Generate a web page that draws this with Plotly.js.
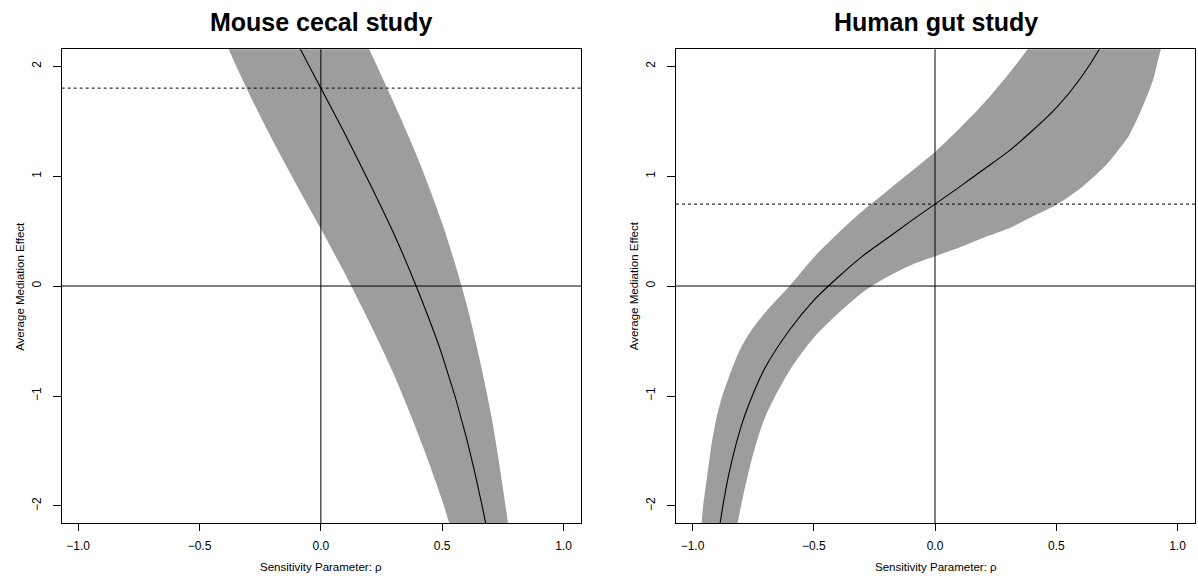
<!DOCTYPE html>
<html>
<head>
<meta charset="utf-8">
<script src="https://cdn.plot.ly/plotly-3.0.1.min.js"></script>
<style>html,body{margin:0;padding:0;background:#fff}#chart{width:1198px;height:579px}</style>
</head>
<body>
<div id="chart"></div>
<script>
// ---- Data ----
const panelTitles = ["Mouse cecal study", "Human gut study"];
const xTitle = "Sensitivity Parameter: \u03c1";
const yTitle = "Average Mediation Effect";
const xTickVals = [-1, -0.5, 0, 0.5, 1];
const xTickText = ["\u22121.0", "\u22120.5", "0.0", "0.5", "1.0"];
const yTickVals = [-2, -1, 0, 1, 2];
const yTickText = ["\u22122", "\u22121", "0", "1", "2"];

// Mouse cecal study
const rhoMouse   = [-0.5, -0.4, -0.3, -0.2, -0.1, 0, 0.1, 0.2, 0.3, 0.4, 0.5, 0.6, 0.7, 0.8];
const acmeMouse  = [4.23, 3.64, 3.12, 2.66, 2.22, 1.80, 1.38, 0.94, 0.48, -0.04, -0.63, -1.38, -2.40, -3.90];
const lowerMouse = [2.90, 2.26, 1.77, 1.33, 0.92, 0.52, 0.11, -0.33, -0.80, -1.34, -1.95, -2.73, -3.75, -5.30];
const upperMouse = [5.45, 4.85, 4.31, 3.86, 3.42, 3.02, 2.58, 2.15, 1.67, 1.16, 0.57, -0.16, -1.15, -2.60];
const estMouse = 1.80;

// Human gut study
const rhoHuman   = [-0.98, -0.96, -0.94, -0.92, -0.90, -0.88, -0.85, -0.80, -0.75, -0.70, -0.60, -0.50, -0.40, -0.30, -0.20, -0.10, 0, 0.10, 0.20, 0.30, 0.40, 0.50, 0.60, 0.70, 0.75, 0.80, 0.85, 0.90, 0.92, 0.94, 0.96];
const acmeHuman  = [-6.74, -4.47, -3.44, -2.82, -2.39, -2.07, -1.71, -1.28, -0.98, -0.74, -0.40, -0.13, 0.08, 0.27, 0.43, 0.59, 0.745, 0.90, 1.06, 1.22, 1.41, 1.62, 1.89, 2.24, 2.47, 2.77, 3.20, 3.88, 4.31, 4.93, 5.96];
const lowerHuman = [-10.3, -6.87, -5.24, -4.32, -3.64, -3.15, -2.61, -2.00, -1.53, -1.19, -0.77, -0.47, -0.25, -0.06, 0.08, 0.19, 0.27, 0.35, 0.44, 0.52, 0.63, 0.74, 0.89, 1.09, 1.22, 1.37, 1.60, 1.88, 2.06, 2.23, 2.56];
const upperHuman = [-3.10, -2.09, -1.74, -1.42, -1.19, -1.02, -0.83, -0.56, -0.38, -0.24, 0.00, 0.26, 0.48, 0.68, 0.86, 1.04, 1.22, 1.43, 1.66, 1.92, 2.21, 2.57, 2.99, 3.49, 3.82, 4.27, 4.85, 5.88, 6.61, 7.63, 9.36];
const estHuman = 0.745;

// ---- Styling / layout ----
const W = 1198, H = 579;
const bandColor = "#9d9d9d";
const font = "Liberation Sans, Arial, Helvetica, sans-serif";
const xRange = [-1.068, 1.072];
const yRange = [-2.155, 2.153];
const plotTop = 49.3, plotBottom = 523;
const boxes = [[61.7, 581], [676, 1195]];

const panels = [
  {rho: rhoMouse, acme: acmeMouse, lo: lowerMouse, hi: upperMouse, est: estMouse},
  {rho: rhoHuman, acme: acmeHuman, lo: lowerHuman, hi: upperHuman, est: estHuman}
];

const traces = [];
const shapes = [];
const annotations = [];
const layout = {
  width: W, height: H,
  margin: {l: 0, r: 0, t: 0, b: 0},
  paper_bgcolor: "#fff", plot_bgcolor: "#fff",
  showlegend: false,
  font: {family: font, color: "#000"}
};

panels.forEach((p, i) => {
  const xa = i === 0 ? "x" : "x2";
  const ya = i === 0 ? "y" : "y2";
  const smooth = {shape: "spline", smoothing: 0.8};
  traces.push({x: p.rho, y: p.lo, xaxis: xa, yaxis: ya, type: "scatter", mode: "lines",
    line: Object.assign({width: 0, color: bandColor}, smooth), hoverinfo: "skip"});
  traces.push({x: p.rho, y: p.hi, xaxis: xa, yaxis: ya, type: "scatter", mode: "lines",
    fill: "tonexty", fillcolor: bandColor,
    line: Object.assign({width: 0, color: bandColor}, smooth), hoverinfo: "skip"});
  traces.push({x: p.rho, y: p.acme, xaxis: xa, yaxis: ya, type: "scatter", mode: "lines",
    line: Object.assign({width: 1.1, color: "#000"}, smooth)});

  const axSuffix = i === 0 ? "" : "2";
  const [bx0, bx1] = boxes[i];
  layout["xaxis" + axSuffix] = {
    domain: [bx0 / W, bx1 / W], range: xRange, anchor: ya,
    showgrid: false, zeroline: false, showline: true, mirror: true,
    linecolor: "#000", linewidth: 1,
    ticks: "outside", ticklen: 7, tickcolor: "#000", tickwidth: 1,
    tickvals: xTickVals, ticktext: xTickText, ticklabelstandoff: 5,
    tickfont: {size: 12, family: font, color: "#000"}
  };
  layout["yaxis" + axSuffix] = {
    domain: [(H - plotBottom) / H, (H - plotTop) / H], range: yRange, anchor: xa,
    showgrid: false, zeroline: false, showline: true, mirror: true,
    linecolor: "#000", linewidth: 1,
    ticks: "outside", ticklen: 8, tickcolor: "#000", tickwidth: 1,
    tickvals: yTickVals, ticktext: yTickText, tickangle: -90, ticklabelstandoff: 7,
    tickfont: {size: 12, family: font, color: "#000"}
  };

  // reference lines (through the axes' scales)
  shapes.push({type: "line", xref: xa + " domain", yref: ya, x0: 0, x1: 1, y0: 0, y1: 0,
    line: {color: "#000", width: 1}});
  shapes.push({type: "line", xref: xa, yref: ya + " domain", x0: 0, x1: 0, y0: 0, y1: 1,
    line: {color: "#000", width: 1}});
  shapes.push({type: "line", xref: xa + " domain", yref: ya, x0: 0, x1: 1, y0: p.est, y1: p.est,
    line: {color: "#000", width: 1, dash: "3px,3px"}});

  const cx = (bx0 + bx1) / 2 / W;
  annotations.push({text: "<b>" + panelTitles[i] + "</b>", xref: "paper", yref: "paper",
    x: cx, y: (H - 22) / H, xanchor: "center", yanchor: "middle", showarrow: false,
    font: {size: 25, family: font, color: "#000"}});
  annotations.push({text: xTitle, xref: "paper", yref: "paper",
    x: cx, y: (H - 567) / H, xanchor: "center", yanchor: "middle", showarrow: false,
    font: {size: 11.5, family: font, color: "#000"}});
  annotations.push({text: yTitle, xref: "paper", yref: "paper", textangle: -90,
    x: (bx0 - 42) / W, y: (H - (plotTop + plotBottom) / 2) / H, xanchor: "center", yanchor: "middle",
    showarrow: false, font: {size: 11.5, family: font, color: "#000"}});
});

layout.shapes = shapes;
layout.annotations = annotations;

Plotly.newPlot("chart", traces, layout, {staticPlot: true, displayModeBar: false});
</script>
</body>
</html>
